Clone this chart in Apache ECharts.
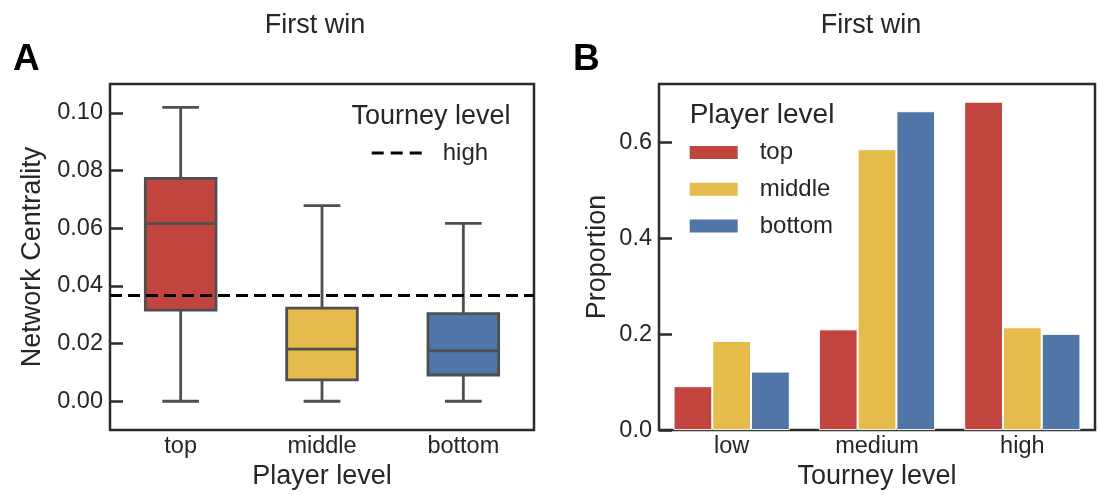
<!DOCTYPE html>
<html>
<head>
<meta charset="utf-8">
<script src="https://cdn.jsdelivr.net/npm/echarts@6/dist/echarts.min.js"></script>
<style>
  html, body { margin: 0; padding: 0; background: #fff; }
  #chart { width: 1098px; height: 495px; }
</style>
</head>
<body>
<div id="chart"></div>
<script>
// panel A: network centrality per player level
var playerLevels = ['top', 'middle', 'bottom'];
// [min, q1, median, q3, max]
var boxStats = [
  [0, 0.0316, 0.0616, 0.0773, 0.1019],
  [0, 0.0074, 0.0181, 0.0323, 0.0678],
  [0, 0.0091, 0.0175, 0.0304, 0.0617]
];
var highLine = 0.0367;
var centralityTicks = [0, 0.02, 0.04, 0.06, 0.08, 0.10];

// panel B: proportion per tourney level
var tourneyLevels = ['low', 'medium', 'high'];
var topProp = [0.0916, 0.2100, 0.6847];
var middleProp = [0.1860, 0.5856, 0.2144];
var bottomProp = [0.1220, 0.6647, 0.2006];
var proportionTicks = [0, 0.2, 0.4, 0.6];

var colors = ['#c1453e', '#e5bb4c', '#5075a7'];
var textCol = '#262626';
var lineCol = '#4f4f4f';
var font = "'Liberation Sans', Arial, sans-serif";

var chart = echarts.init(document.getElementById('chart'));

function renderBox(params, api) {
  var x = api.value(0);
  var pMin = api.coord([x, api.value(1)]);
  var pQ1 = api.coord([x, api.value(2)]);
  var pMed = api.coord([x, api.value(3)]);
  var pQ3 = api.coord([x, api.value(4)]);
  var pMax = api.coord([x, api.value(5)]);
  var band = api.size([1, 0])[0];
  var hw = band * 0.25;
  var cw = band * 0.13;
  var cx = pMin[0];
  var ls = { stroke: lineCol, lineWidth: 2.8 };
  return {
    type: 'group',
    children: [
      { type: 'line', shape: { x1: cx, y1: pMin[1], x2: cx, y2: pQ1[1] }, style: ls },
      { type: 'line', shape: { x1: cx, y1: pQ3[1], x2: cx, y2: pMax[1] }, style: ls },
      { type: 'line', shape: { x1: cx - cw, y1: pMin[1], x2: cx + cw, y2: pMin[1] }, style: ls },
      { type: 'line', shape: { x1: cx - cw, y1: pMax[1], x2: cx + cw, y2: pMax[1] }, style: ls },
      { type: 'rect', shape: { x: cx - hw, y: pQ3[1], width: hw * 2, height: pQ1[1] - pQ3[1] },
        style: { fill: api.visual('color'), stroke: lineCol, lineWidth: 2.8 } },
      { type: 'line', shape: { x1: cx - hw, y1: pMed[1], x2: cx + hw, y2: pMed[1] }, style: ls }
    ]
  };
}

var boxData = boxStats.map(function (s, i) {
  return { value: [i].concat(s), itemStyle: { color: colors[i] } };
});

var tickLabel = { color: textCol, fontSize: 23.5, fontFamily: font };
var axisName = { color: textCol, fontSize: 27, fontFamily: font };
// three short dashes, used as the legend sample of the dashed line
var dashIcon = 'path://M0 0h12v3H0z M19 0h12v3H19z M38 0h12v3H38z';

chart.setOption({
  animation: false,
  grid: [
    { left: 110, right: 564, top: 84, bottom: 64.5, show: true, borderColor: '#2b2b2b', borderWidth: 2.5 },
    { left: 659, right: 3, top: 84, bottom: 64.5, show: true, borderColor: '#2b2b2b', borderWidth: 2.5 }
  ],
  xAxis: [
    {
      gridIndex: 0, type: 'category', data: playerLevels,
      name: 'Player level', nameLocation: 'middle', nameGap: 30, nameTextStyle: axisName,
      axisLine: { show: false }, axisTick: { show: false },
      axisLabel: Object.assign({ margin: 4 }, tickLabel)
    },
    {
      gridIndex: 1, type: 'category', data: tourneyLevels,
      name: 'Tourney level', nameLocation: 'middle', nameGap: 30, nameTextStyle: axisName,
      axisLine: { show: false }, axisTick: { show: false },
      axisLabel: Object.assign({ margin: 4 }, tickLabel)
    }
  ],
  yAxis: [
    {
      gridIndex: 0, type: 'value', min: -0.01, max: 0.11,
      name: 'Network Centrality', nameLocation: 'middle', nameGap: 64, nameTextStyle: axisName,
      axisLine: { show: false }, splitLine: { show: false },
      axisTick: { show: true, inside: true, length: 13, customValues: centralityTicks,
        lineStyle: { color: '#2b2b2b', width: 2.5 } },
      axisLabel: Object.assign({ margin: 7, customValues: centralityTicks,
        formatter: function (v) { return v.toFixed(2); } }, tickLabel)
    },
    {
      gridIndex: 1, type: 'value', min: 0, max: 0.7215,
      name: 'Proportion', nameLocation: 'middle', nameGap: 48, nameTextStyle: axisName,
      axisLine: { show: false }, splitLine: { show: false },
      axisTick: { show: true, inside: true, length: 13, customValues: proportionTicks,
        lineStyle: { color: '#2b2b2b', width: 2.5 } },
      axisLabel: Object.assign({ margin: 7, customValues: proportionTicks,
        formatter: function (v) { return v.toFixed(1); } }, tickLabel)
    }
  ],
  legend: [
    {
      data: [{ name: 'high', icon: dashIcon }], orient: 'vertical', left: 371.7, top: 141, padding: 0,
      itemWidth: 50, itemHeight: 3,
      textStyle: { color: textCol, fontSize: 24, fontFamily: font, lineHeight: 24, padding: [0, 0, 0, 16] }
    },
    {
      data: ['top', 'middle', 'bottom'], icon: 'rect', orient: 'vertical', left: 687.7, top: 140.5, padding: 0,
      itemWidth: 50, itemHeight: 15, itemGap: 12.7,
      textStyle: { color: textCol, fontSize: 24, fontFamily: font, lineHeight: 24, padding: [0, 0, 0, 16] }
    }
  ],
  graphic: [
    { type: 'text', x: 315, y: 26, style: { text: 'First win', fill: textCol, font: '27px ' + font, textAlign: 'center', textVerticalAlign: 'middle' } },
    { type: 'text', x: 871, y: 26, style: { text: 'First win', fill: textCol, font: '27px ' + font, textAlign: 'center', textVerticalAlign: 'middle' } },
    { type: 'text', x: 13, y: 60, style: { text: 'A', fill: '#000', font: 'bold 37px ' + font, textAlign: 'left', textVerticalAlign: 'middle' } },
    { type: 'text', x: 573, y: 60, style: { text: 'B', fill: '#000', font: 'bold 37px ' + font, textAlign: 'left', textVerticalAlign: 'middle' } },
    { type: 'text', x: 431, y: 117, style: { text: 'Tourney level', fill: textCol, font: '27px ' + font, textAlign: 'center', textVerticalAlign: 'middle' } },
    { type: 'text', x: 762, y: 115, style: { text: 'Player level', fill: textCol, font: '28px ' + font, textAlign: 'center', textVerticalAlign: 'middle' } }
  ],
  series: [
    {
      type: 'custom', xAxisIndex: 0, yAxisIndex: 0,
      renderItem: renderBox, data: boxData,
      encode: { x: 0, y: [1, 2, 3, 4, 5] }, z: 2
    },
    {
      name: 'high', type: 'line', xAxisIndex: 0, yAxisIndex: 0, data: [],
      symbol: 'none', color: '#000',
      lineStyle: { color: '#000', width: 3, type: [12, 6] },
      markLine: {
        silent: true, symbol: 'none', precision: 4, label: { show: false },
        lineStyle: { color: '#000', width: 3, type: [12, 6] },
        data: [{ yAxis: highLine }]
      },
      z: 5
    },
    {
      name: 'top', type: 'bar', xAxisIndex: 1, yAxisIndex: 1, data: topProp,
      barGap: '0%', barCategoryGap: '20%',
      itemStyle: { color: colors[0], borderColor: '#fff', borderWidth: 1 }
    },
    {
      name: 'middle', type: 'bar', xAxisIndex: 1, yAxisIndex: 1, data: middleProp,
      barGap: '0%', barCategoryGap: '20%',
      itemStyle: { color: colors[1], borderColor: '#fff', borderWidth: 1 }
    },
    {
      name: 'bottom', type: 'bar', xAxisIndex: 1, yAxisIndex: 1, data: bottomProp,
      barGap: '0%', barCategoryGap: '20%',
      itemStyle: { color: colors[2], borderColor: '#fff', borderWidth: 1 }
    }
  ]
});
</script>
</body>
</html>
